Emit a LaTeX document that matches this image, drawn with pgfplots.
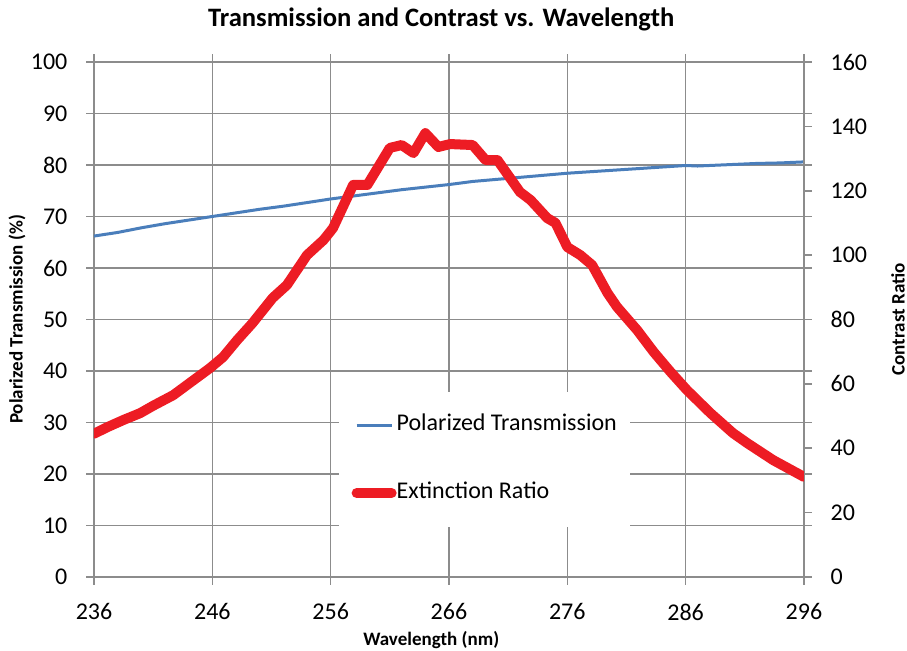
\documentclass[border=0pt]{standalone}
\usepackage{fontspec}
\setmainfont{Carlito}
\usepackage{pgfplots}
\pgfplotsset{compat=1.18}
\definecolor{tblue}{RGB}{74,126,187}
\definecolor{tred}{RGB}{237,28,36}
\definecolor{grd}{RGB}{140,140,140}
\begin{document}
\begin{tikzpicture}
\useasboundingbox (-47pt,-37pt) rectangle (406.5pt,288.5pt);
\pgfplotsset{
  every axis/.append style={
    scale only axis, width=355pt, height=257.5pt,
    at={(0,0)}, anchor=south west,
    /pgf/number format/assume math mode=true,
    tick label style={font=\fontsize{12}{14}\selectfont},
    label style={font=\bfseries\fontsize{9.5}{11}\selectfont},
    axis line style={grd, line width=0.8pt},
    tick style={grd, line width=0.8pt},
    tick align=outside,
    major tick length=3.8pt,
  }
}
\begin{axis}[
  xmin=236, xmax=296, ymin=0, ymax=100,
  xtick={236,246,...,296}, ytick={0,10,...,100},
  grid=major, grid style={grd, line width=0.8pt},
  xticklabel style={yshift=-6pt},
  yticklabel style={xshift=-6pt},
  title={Transmission and Contrast vs. Wavelength},
  title style={font=\bfseries\fontsize{13.3}{15}\selectfont, at={(axis description cs:0.489,1)}, anchor=center, yshift=15.5pt},
  xlabel={Wavelength (nm)},
  xlabel style={at={(axis description cs:0.475,-0.1223)}, anchor=center},
  ylabel={Polarized Transmission (\%)},
  ylabel style={at={(axis description cs:-0.1085,0.5)}, anchor=center},
]
\addplot[tblue, line width=1.5pt] coordinates {
(236,66.2) (238,66.9) (240,67.8) (242,68.6) (244,69.3) (246,70.0) (248,70.7)
(250,71.4) (252,72.0) (254,72.7) (256,73.4) (258,74.0) (260,74.6) (262,75.2)
(264,75.7) (266,76.2) (268,76.8) (270,77.2) (272,77.6) (274,78.0) (276,78.4)
(278,78.7) (280,79.0) (282,79.3) (284,79.6) (286,79.9) (287,79.8) (288,79.9)
(290,80.1) (292,80.3) (294,80.4) (296,80.6)
};
\end{axis}
\begin{axis}[
  xmin=236, xmax=296, ymin=0, ymax=160,
  axis x line=none, axis y line*=right,
  ytick={0,20,...,160},
  yticklabel style={xshift=6pt},
  ylabel={Contrast Ratio},
  ylabel style={at={(axis description cs:1.1324,0.5)}, anchor=center},
  legend style={at={(axis description cs:0.344,0.097)}, anchor=south west,
    draw=none, fill=white, inner xsep=6.5pt, inner ysep=11.5pt,
    row sep=23.5pt, column sep=0pt,
    nodes={inner sep=0pt, text height=8pt, text depth=2.5pt},
    font=\fontsize{12}{14}\selectfont},
  legend cell align=left,
  legend image code/.code={\draw[#1] (0pt,0pt) -- (17.5pt,0pt);},
]
\addlegendimage{tblue, line width=1.5pt}
\addlegendentry{Polarized Transmission}
\addplot[tred, line width=5pt, line join=round, line cap=round] coordinates {
(236.0,44.5) (237.1,46.5) (238.5,48.8) (239.9,50.9) (241.0,53.2) (242.7,56.5)
(244.1,60.3) (245.8,64.9) (246.9,68.3) (248.1,73.6) (249.4,78.9) (251.1,86.7)
(252.3,90.7) (254.0,100.0) (255.4,104.7) (256.2,108.4) (257.9,121.8) (259.1,121.8)
(261.0,133.3) (262.0,134.2) (263.0,131.7) (264.0,137.9) (265.1,133.6) (266.1,134.5)
(268.0,134.2) (269.1,129.5) (270.1,129.5) (272.0,119.6) (272.9,117.1) (274.3,111.5)
(275.0,110.0) (276.0,102.5) (277.1,100.0) (278.1,96.9) (279.4,88.2) (280.2,83.9)
(281.9,76.7) (283.3,69.9) (284.7,63.8) (286.1,58.1) (288.1,50.9) (290.0,44.7)
(291.2,41.6) (293.4,36.3) (296.0,31.1)
};
\addlegendentry{Extinction Ratio}
\end{axis}
\end{tikzpicture}
\end{document}
